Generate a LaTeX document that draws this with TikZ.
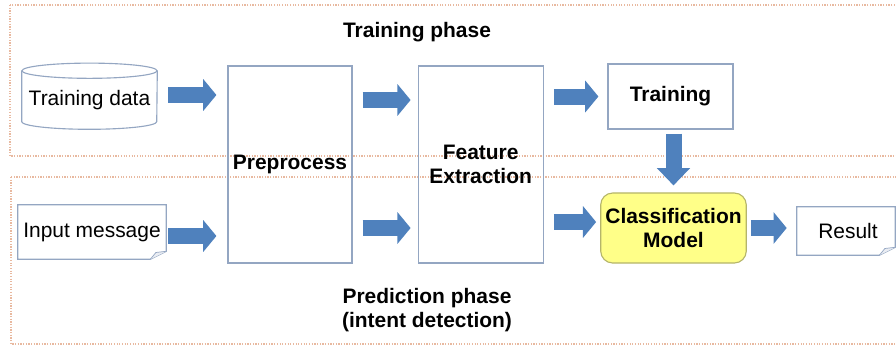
\documentclass[tikz,border=0pt]{standalone}
\usepackage{fontspec}
\setmainfont{Liberation Sans}
\usepackage{xcolor}
\definecolor{blue1}{HTML}{4F81BD}
\definecolor{edge1}{HTML}{94A6C2}
\definecolor{frame1}{HTML}{E8B9A0}
\definecolor{yellow1}{HTML}{FFFF88}
\definecolor{olive1}{HTML}{B5B56A}
\usetikzlibrary{arrows.meta,positioning,calc}

\begin{document}
\begin{tikzpicture}[
  x=0.025cm, y=-0.025cm,
  txt/.style={font=\fontsize{14.9}{17}\selectfont},
  txtb/.style={font=\fontsize{14.9}{17}\selectfont\bfseries},
  box/.style={rectangle,draw=edge1,line width=0.8pt,align=center,txtb},
  doc/.style={rectangle,txt,align=center},
  outline/.style={draw=edge1,line width=0.8pt},
  phase/.style={draw=frame1,densely dotted,line width=0.9pt},
  blk/.style={draw=blue1,line width=0.4cm,-{Triangle[width=0.78cm,length=0.33cm]}},
]
  \useasboundingbox (0,0) rectangle (896,345);

  % phase frames, cut at the right edge
  \begin{scope}
    \clip (0,0) rectangle (896,345);
    \draw[phase] (10,5) rectangle (920,156);
    \draw[phase] (11,177) rectangle (920,344);
  \end{scope}

  \node[txtb] (tph) at (417,32) {Training phase};
  \node[txtb,align=center] (pph) at (427,310) {Prediction phase\\(intent detection)};

  \node[doc,minimum width=3.375cm,minimum height=1.45cm] (tdata) at (89.5,100) {Training data};
  \node[doc,minimum width=3.7cm,minimum height=1.35cm] (inmsg) at (92,232) {Input message};

  \node[box,minimum width=3.1cm,minimum height=4.925cm] (prep) at (290,164.5) {Preprocess};
  \node[box,minimum width=3.125cm,minimum height=4.925cm,right=1.625cm of prep] (feat) {Feature\\Extraction};
  \node[box,minimum width=3.125cm,minimum height=1.625cm] (train) at (670.5,96.5) {Training};
  \node[box,rounded corners=0.3cm,fill=yellow1,draw=olive1,minimum width=3.525cm,
        minimum height=1.75cm] (cls) at (673.5,228) {Classification\\Model};
  \node[doc,minimum width=2.45cm,minimum height=1.2cm] (res) at (846,231) {\hspace{0.1cm}Result};

  % cylinder for the data store
  \draw[outline] (tdata.north west) -- ([yshift=0.19cm]tdata.south west)
    arc[start angle=180,end angle=360,x radius=1.6875cm,y radius=0.19cm] -- (tdata.north east);
  \draw[outline,fill=white] (tdata.north) ellipse[x radius=1.6875cm,y radius=0.19cm];

  % sheets with a folded corner
  \foreach \d in {inmsg,res}{
    \draw[outline] (\d.north west) -- (\d.north east) -- ([yshift=0.2cm]\d.south east)
      -- ([xshift=-0.4cm]\d.south east) -- (\d.south west) -- cycle;
    \draw[outline,line width=0.5pt,fill=edge1!20] ([xshift=-0.4cm]\d.south east)
      -- ([xshift=-0.26cm,yshift=0.17cm]\d.south east) -- ([yshift=0.2cm]\d.south east);
  }

  \draw[blk,shorten <=0.275cm,shorten >=0.275cm]
    ($(tdata.east)+(0,-5)$) -- ($(prep.west|-tdata.east)+(0,-5)$);
  \draw[blk,shorten <=0.05cm,shorten >=0.275cm]
    ($(inmsg.east)+(0,4)$) -- ($(prep.west|-inmsg.east)+(0,4)$);
  \draw[blk,shorten <=0.25cm,shorten >=0.175cm]
    ($(prep.east)+(0,-64.5)$) -- ($(feat.west)+(0,-64.5)$);
  \draw[blk,shorten <=0.25cm,shorten >=0.175cm]
    ($(prep.east)+(0,63.5)$) -- ($(feat.west)+(0,63.5)$);
  \draw[blk,shorten <=0.25cm,shorten >=0.225cm] (feat.east|-train.west) -- (train.west);
  \draw[blk,shorten <=0.25cm,shorten >=0.1cm]
    ($(feat.east|-cls.west)+(0,-6)$) -- ($(cls.west)+(0,-6)$);
  \draw[blk,-{Triangle[width=0.8cm,length=0.43cm]},shorten <=0.1cm,shorten >=0.175cm]
    (cls.north|-train.south) -- (cls.north);
  \draw[blk,shorten <=0.1cm,shorten >=0.25cm] (cls.east) -- (cls.east-|res.west);
\end{tikzpicture}
\end{document}
